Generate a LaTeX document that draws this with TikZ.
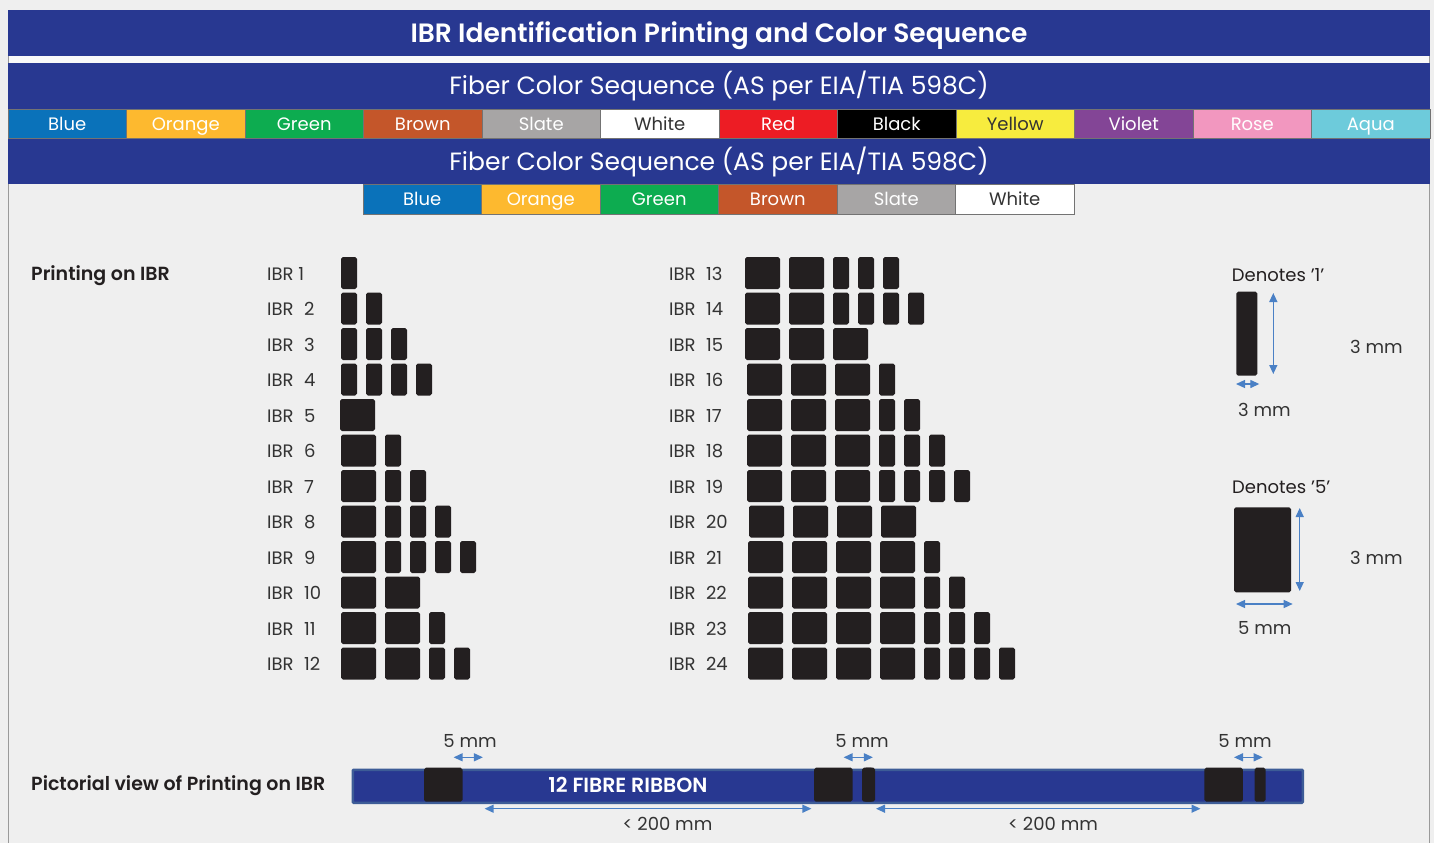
\documentclass[tikz,border=0pt]{standalone}
\usepackage{fontspec}
\setmainfont{Poppins}[BoldFont=Poppins SemiBold]
\usetikzlibrary{arrows.meta}
\definecolor{navy}{HTML}{283891}
\definecolor{bgc}{HTML}{EFEFEF}
\definecolor{ink}{HTML}{231F20}
\definecolor{txt}{HTML}{333333}
\definecolor{arrowblue}{HTML}{4A80C5}
\definecolor{ribedge}{HTML}{3D5C97}
\definecolor{framec}{HTML}{9A9A9A}
\definecolor{cBlue}{HTML}{0A72BA}
\definecolor{cOrange}{HTML}{FDB92F}
\definecolor{cGreen}{HTML}{0DAC50}
\definecolor{cBrown}{HTML}{C4562A}
\definecolor{cSlate}{HTML}{A7A5A5}
\definecolor{cWhite}{HTML}{FFFFFF}
\definecolor{cRed}{HTML}{ED1C24}
\definecolor{cBlack}{HTML}{000000}
\definecolor{cYellow}{HTML}{F7EC3E}
\definecolor{cViolet}{HTML}{834596}
\definecolor{cRose}{HTML}{F297BF}
\definecolor{cAqua}{HTML}{6DCBDB}
\newcommand\blockrow[4]{%
  \gdef\curx{#2}%
  \foreach \t [count=\k] in {#4}{%
    \if\t W\gdef\bw{35}\else\gdef\bw{16}\fi
    \node[blk, minimum width=\bw pt, anchor=north west] (#1-\k) at (\curx,#3) {};
    \pgfmathsetmacro\nx{\curx+\bw+9}%
    \xdef\curx{\nx}%
  }%
}
\begin{document}
\begin{tikzpicture}[x=1pt,y=-1pt,
  cell/.style={draw=black!55, line width=0.8pt, minimum width=118.5pt, minimum height=29.3pt, inner sep=0pt, text height=12.6pt, text depth=0pt, font=\fontsize{18}{20}\selectfont},
  blk/.style={fill=ink, rounded corners=1.8pt, minimum height=32pt, inner sep=0pt, outer sep=0pt},
  lbl/.style={anchor=west, text=txt, inner sep=0pt, text height=12.6pt, text depth=0pt, font=\fontsize{18}{20}\selectfont},
  mm/.style={text=txt, inner sep=0pt, text height=12.6pt, text depth=0pt, font=\fontsize{18}{20}\selectfont},
  head/.style={anchor=west, text=ink, inner sep=0pt, text height=13.3pt, text depth=0pt, font=\bfseries\fontsize{19}{21}\selectfont},
  dim/.style={draw=arrowblue, line width=1.3pt, {Triangle[length=9pt,width=8pt]}-{Triangle[length=9pt,width=8pt]}},
  big/.style={fill=ink, rounded corners=1.8pt, inner sep=0pt, outer sep=0pt},
  ttl/.style={fill=navy, minimum width=1422pt, minimum height=46pt, inner sep=0pt, text=white, text depth=0pt}
]
\useasboundingbox (0,0) rectangle (1434,843);
\fill[bgc] (0,0) rectangle (1434,843);
% frame
\fill[white!60!bgc] (8,56) rectangle (1430,63);
\draw[framec, line width=1pt] (8,56) -- (8,843);
\draw[framec, line width=1pt] (1429,56) -- (1429,843);
% title bars
\node[ttl, text height=18.5pt, font=\bfseries\fontsize{26.5}{30}\selectfont] (title) at (719,33)
  {IBR Identification Printing and Color Sequence};
\node[ttl, text height=17.5pt, font=\fontsize{25}{28}\selectfont] (seq1) at (719,86)
  {Fiber Color Sequence (AS per EIA/TIA 598C)};
\node[ttl, text height=17.5pt, font=\fontsize{25}{28}\selectfont] (seq2) at (719,161.3)
  {Fiber Color Sequence (AS per EIA/TIA 598C)};
% colour rows
\foreach \nm/\col/\tc [count=\i] in {Blue/cBlue/white, Orange/cOrange/white, Green/cGreen/white, Brown/cBrown/white, Slate/cSlate/white, White/cWhite/txt, Red/cRed/white, Black/cBlack/white, Yellow/cYellow/txt, Violet/cViolet/white, Rose/cRose/white, Aqua/cAqua/white}{
  \node[cell, fill=\col, text=\tc] (ra\i) at ({8+118.5*(\i-0.5)},123.7) {\nm};
}
\foreach \nm/\col/\tc [count=\i] in {Blue/cBlue/white, Orange/cOrange/white, Green/cGreen/white, Brown/cBrown/white, Slate/cSlate/white, White/cWhite/txt}{
  \node[cell, fill=\col, text=\tc] (rb\i) at ({363+118.5*(\i-0.5)},199.3) {\nm};
}
% headings
\node[head] (ph) at (31,274) {Printing on IBR};
\node[head] (pv) at (31,784) {Pictorial view of Printing on IBR};
% left labels
\node[lbl] (l1) at (267,274) {IBR 1};
\foreach \i in {2,...,12}{
  \node[lbl] (l\i) at (267,{274+35.5*(\i-1)}) {IBR\hspace{10.5pt}\i};
}
\foreach \i in {13,...,24}{
  \node[lbl] (l\i) at (669,{274+35.5*(\i-13)}) {IBR\hspace{10.5pt}\i};
}
% left blocks
\blockrow{b1}{341}{257}{N}
\blockrow{b2}{341}{292.5}{N,N}
\blockrow{b3}{341}{328}{N,N,N}
\blockrow{b4}{341}{363.5}{N,N,N,N}
\blockrow{b5}{340}{399}{W}
\blockrow{b6}{341}{434.5}{W,N}
\blockrow{b7}{341}{470}{W,N,N}
\blockrow{b8}{341}{505.5}{W,N,N,N}
\blockrow{b9}{341}{541}{W,N,N,N,N}
\blockrow{b10}{341}{576.5}{W,W}
\blockrow{b11}{341}{612}{W,W,N}
\blockrow{b12}{341}{647.5}{W,W,N,N}
% right blocks
\blockrow{b13}{745}{257}{W,W,N,N,N}
\blockrow{b14}{745}{292.5}{W,W,N,N,N,N}
\blockrow{b15}{745}{328}{W,W,W}
\blockrow{b16}{747}{363.5}{W,W,W,N}
\blockrow{b17}{747}{399}{W,W,W,N,N}
\blockrow{b18}{747}{434.5}{W,W,W,N,N,N}
\blockrow{b19}{747}{470}{W,W,W,N,N,N,N}
\blockrow{b20}{749}{505.5}{W,W,W,W}
\blockrow{b21}{748}{541}{W,W,W,W,N}
\blockrow{b22}{748}{576.5}{W,W,W,W,N,N}
\blockrow{b23}{748}{612}{W,W,W,W,N,N,N}
\blockrow{b24}{748}{647.5}{W,W,W,W,N,N,N,N}
% denotes
\node[lbl, text=ink] (dn1) at (1231.7,275) {Denotes '1'};
\node[big, minimum width=21pt, minimum height=84pt, anchor=north west] (k1) at (1236.3,291.7) {};
\coordinate (k1t) at (1273.3,293);
\coordinate (k1b) at (1273.3,374);
\draw[dim] (k1t) -- (k1b);
\coordinate (k1l) at (1236,384);
\coordinate (k1r) at (1259.3,384);
\draw[dim] (k1l) -- (k1r);
\node[lbl] (m1) at (1350,346.7) {3 mm};
\node[lbl] (m2) at (1238,410) {3 mm};
\node[lbl, text=ink] (dn5) at (1232,486.7) {Denotes '5'};
\node[big, minimum width=57pt, minimum height=85pt, anchor=north west] (k5) at (1234,507.3) {};
\coordinate (k5t) at (1299.7,508);
\coordinate (k5b) at (1299.7,591);
\draw[dim] (k5t) -- (k5b);
\coordinate (k5l) at (1236,604);
\coordinate (k5r) at (1292.7,604);
\draw[dim] (k5l) -- (k5r);
\node[lbl] (m3) at (1350,558) {3 mm};
\node[lbl] (m4) at (1238,628) {5 mm};
% ribbon
\node[fill=navy, draw=ribedge, line width=2.5pt, rounded corners=1pt, minimum width=950pt, minimum height=33pt, inner sep=0pt, anchor=north west] (rib) at (351.5,768.5) {};
\node[text=white, font=\bfseries\fontsize{20.5}{22}\selectfont, inner sep=0pt, text height=14.3pt, text depth=0pt] (ribt) at (628,785.7) {12 FIBRE RIBBON};
\foreach \a/\b/\n in {424/862/1, 814/864/2, 1204.4/1254.5/3}{
  \node[big, minimum width=38.5pt, minimum height=34pt, anchor=north west] (rw\n) at (\a,767.7) {};
  \node[big, minimum width=11pt, minimum height=34pt, anchor=north west] (rn\n) at (\b,767.7) {};
}
% 5 mm arrows
\foreach \a/\b/\c/\n in {453.6/482.9/470/1, 843.6/872.9/862/2, 1234/1262.7/1245/3}{
  \coordinate (fa\n) at (\a,757.3);
  \coordinate (fb\n) at (\b,757.3);
  \draw[dim] (fa\n) -- (fb\n);
  \node[mm] (ft\n) at (\c,740.7) {5 mm};
}
% 200 mm arrows
\coordinate (la1) at (484.6,808.7);
\coordinate (lb1) at (811.4,808.7);
\draw[dim] (la1) -- (lb1);
\node[mm] (lt1) at (667.5,824) {< 200 mm};
\coordinate (la2) at (876,808.7);
\coordinate (lb2) at (1200.5,808.7);
\draw[dim] (la2) -- (lb2);
\node[mm] (lt2) at (1053,824) {< 200 mm};
\end{tikzpicture}
\end{document}
